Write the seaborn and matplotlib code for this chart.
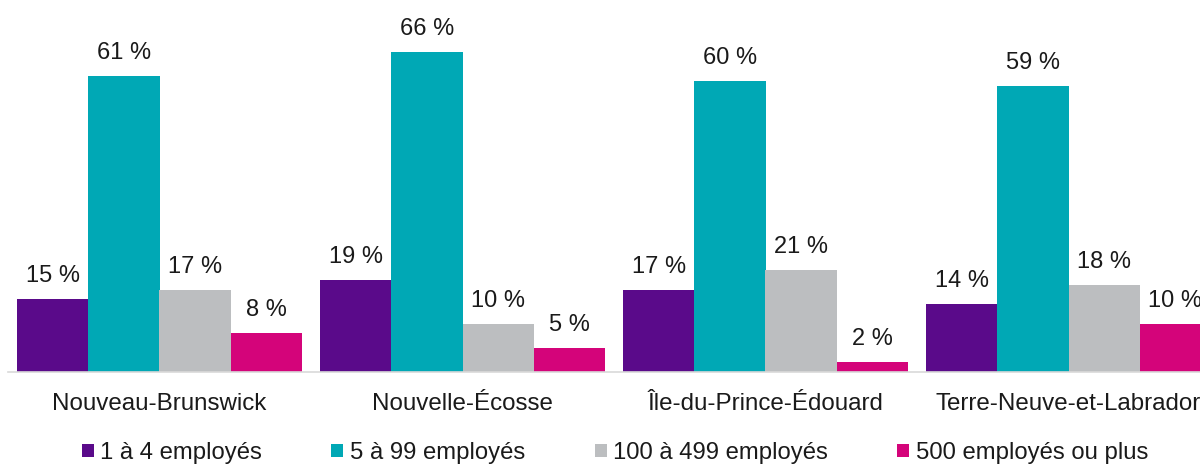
import matplotlib
matplotlib.use("Agg")
import matplotlib.pyplot as plt
import seaborn as sns
import pandas as pd

provinces = ["Nouveau-Brunswick", "Nouvelle-Écosse", "Île-du-Prince-Édouard", "Terre-Neuve-et-Labrador"]
sizes = ["1 à 4 employés", "5 à 99 employés", "100 à 499 employés", "500 employés ou plus"]
v_1_4 = [15, 19, 17, 14]
v_5_99 = [61, 66, 60, 59]
v_100_499 = [17, 10, 21, 18]
v_500 = [8, 5, 2, 10]
colors = ["#5a0a8a", "#00a8b5", "#bcbec0", "#d4047a"]

rows = []
for s, vals in zip(sizes, [v_1_4, v_5_99, v_100_499, v_500]):
    for p, v in zip(provinces, vals):
        rows.append({"Province": p, "Taille": s, "Pct": v})
df = pd.DataFrame(rows)

sns.set_theme(style="white")
plt.rcParams['font.family'] = ['Liberation Sans', 'DejaVu Sans']

fig = plt.figure(figsize=(12, 4.65), dpi=100)
ax = fig.add_axes([8/1200, 93/465, 1212/1200, 372/465])
sns.barplot(data=df, x="Province", y="Pct", hue="Taille", order=provinces,
            hue_order=sizes, palette=colors, width=0.94, saturation=1,
            linewidth=0, ax=ax, legend=True)

for cont in ax.containers:
    ax.bar_label(cont, labels=[f"{int(v)} %" for v in cont.datavalues],
                 padding=8.5, fontsize=17, color="#1a1a1a")

ax.set_ylim(0, 372/4.85)
ax.set_xlim(-0.5, 3.5)
ax.set_xlabel("")
ax.set_ylabel("")
ax.set_yticks([])
for side in ["top", "right", "left"]:
    ax.spines[side].set_visible(False)
ax.spines["bottom"].set_color("#d9d9d9")
ax.spines["bottom"].set_linewidth(1.2)
ax.tick_params(axis="x", length=0, pad=15, labelsize=17.4, labelcolor="#1a1a1a")

handles, labels = ax.get_legend_handles_labels()
ax.get_legend().remove()
fig.legend(handles, labels, loc="center", bbox_to_anchor=(615/1200, 1 - 453/465),
           ncol=4, frameon=False, fontsize=17.2, handlelength=0.5, handleheight=0.5,
           handletextpad=0.28, columnspacing=2.9, labelcolor="#1a1a1a")

fig.savefig("out.png", dpi=100)
